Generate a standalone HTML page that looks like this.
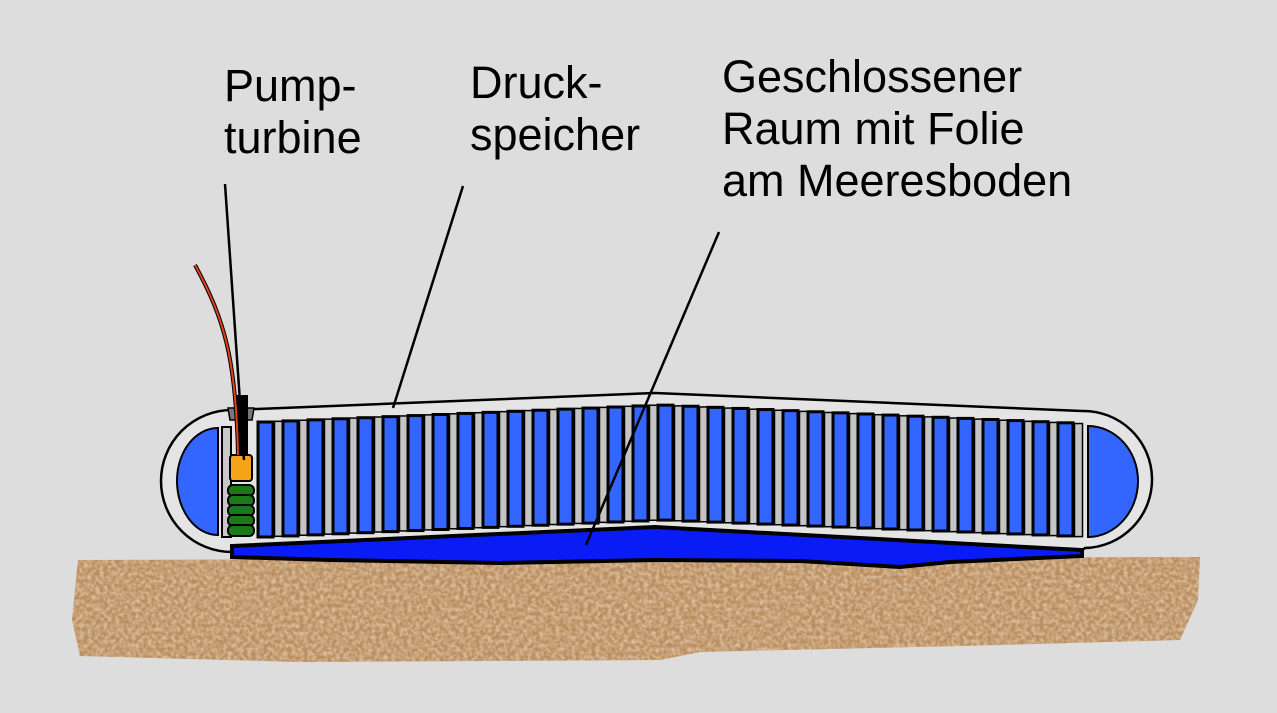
<!DOCTYPE html>
<html><head><meta charset="utf-8"><style>
body{margin:0;background:#dddddd;width:1277px;height:713px;overflow:hidden}
svg{display:block}
text{font-family:"Liberation Sans",sans-serif;font-size:45px;fill:#000}
</style></head><body>
<svg id="s" width="1277" height="713" viewBox="0 0 1277 713">
<defs>
<filter id="n" x="0" y="0" width="100%" height="100%">
<feTurbulence type="fractalNoise" baseFrequency="0.25" numOctaves="2" seed="3" result="t"/>
<feColorMatrix in="t" type="matrix" values="0 0 0 0 0.78  0 0 0 0 0.6  0 0 0 0 0.42  0 0 0 -1.6 1.1" result="c"/>
<feComposite in="c" in2="SourceGraphic" operator="in"/>
</filter>
</defs>
<rect width="1277" height="713" fill="#dddddd"/>
<path d="M78,560 L1200,557 L1198,600 L1180,640 L1000,645 L700,652 L660,660 L300,662 L80,656 L72,620 Z" fill="#b98d5f"/>
<path d="M78,560 L1200,557 L1198,600 L1180,640 L1000,645 L700,652 L660,660 L300,662 L80,656 L72,620 Z" fill="#c9a272" filter="url(#n)"/>
<path d="M232,410 L655,393 L1082,411 A68,68 0 0 1 1085,548 L1080,552 L655,527 L232,552 A70,70 0 0 1 232,410 Z" fill="#e4e4e4" stroke="#000" stroke-width="2.5"/>
<path d="M232,546 L655,527 L1082,550 L1082,556 L950,562 L900,567 L800,561 L655,560 L500,563 L330,560 L232,557 Z" fill="#0a1cf5" stroke="#000" stroke-width="4"/>
<path d="M218,428 L218,535 C195,535 177,510 177,481 C177,452 195,428 218,428 Z" fill="#3366ff" stroke="#000" stroke-width="2"/>
<path d="M1088,426 L1088,537 C1115,537 1138,512 1138,481 C1138,450 1115,426 1088,426 Z" fill="#3366ff" stroke="#000" stroke-width="2"/>
<g id="bars"></g>
<rect x="222" y="427" width="9" height="110" fill="#c8c8c8" stroke="#000" stroke-width="2"/>
<path d="M228,408 L254,408 L252,420 L230,420 Z" fill="#777" stroke="#000" stroke-width="1.5"/>
<rect x="236" y="395" width="12" height="60" fill="#000"/>
<rect x="230" y="455" width="22" height="26" rx="3" fill="#f5a418" stroke="#000" stroke-width="2"/>
<g fill="#1a7a1a" stroke="#000" stroke-width="2">
<rect x="228" y="485" width="26" height="11" rx="5"/><rect x="228" y="495" width="26" height="11" rx="5"/>
<rect x="228" y="505" width="26" height="11" rx="5"/><rect x="228" y="515" width="26" height="11" rx="5"/>
<rect x="228" y="525" width="26" height="11" rx="5"/>
</g>
<path d="M195,265 C225,320 236,360 238,455" fill="none" stroke="#000" stroke-width="4"/>
<path d="M195,265 C225,320 236,360 238,455" fill="none" stroke="#e0401a" stroke-width="2"/>
<g stroke="#000" stroke-width="2.5">
<line x1="225" y1="184" x2="244" y2="460"/>
<line x1="463" y1="186" x2="393" y2="408"/>
<line x1="719" y1="232" x2="586" y2="545"/>
</g>
<text x="224" y="101">Pump-</text>
<text x="224" y="153">turbine</text>
<text x="470" y="98">Druck-</text>
<text x="470" y="150">speicher</text>
<text x="722" y="92">Geschlossener</text>
<text x="722" y="144">Raum mit Folie</text>
<text x="722" y="196">am Meeresboden</text>
</svg>
<script>
(function(){
var g=document.getElementById('bars'),h='';
function ty(x){return x<655?422-(x-258)*17/397:405+(x-655)*19/430;}
function by(x){return x<655?537-(x-258)*17/397:520+(x-655)*17/430;}
for(var x=258;x<1083;x+=25){
 var w=15,t=ty(x),b=by(x);
 h+='<rect x="'+x+'" y="'+t+'" width="'+w+'" height="'+(b-t)+'" fill="#3366ff" stroke="#000" stroke-width="3"/>';
 var x2=x+w+1.5;if(x2+8<1088){var t2=ty(x2),b2=by(x2);
 h+='<rect x="'+x2+'" y="'+t2+'" width="8" height="'+(b2-t2)+'" fill="#c4c4c4" stroke="#000" stroke-width="1.5"/>';}
}
g.innerHTML=h;
})();
</script>
</body></html>
